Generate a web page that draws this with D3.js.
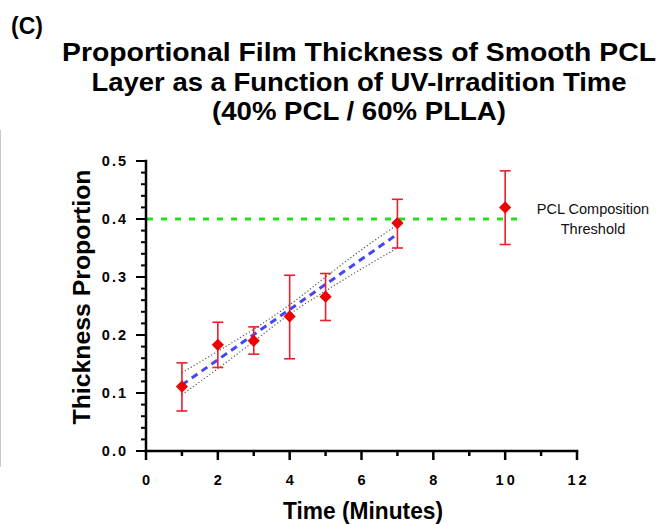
<!DOCTYPE html>
<html>
<head>
<meta charset="utf-8">
<script src="https://cdn.jsdelivr.net/npm/d3@7"></script>
<style>
  html, body { margin: 0; padding: 0; background: #fff; }
  svg { display: block; }
</style>
</head>
<body>
<div id="chart"></div>
<script>
// Irradiation time (minutes) and measured proportional thickness of the smooth PCL layer
const times = [1, 2, 3, 4, 5, 7, 10];
const meanThickness = [0.111, 0.183, 0.190, 0.232, 0.266, 0.393, 0.420];
const errLow = [0.069, 0.144, 0.167, 0.159, 0.225, 0.350, 0.356];
const errHigh = [0.152, 0.222, 0.214, 0.303, 0.306, 0.434, 0.483];

// Linear fit over the first six time points, with its confidence band
const fitTimes = [1, 7];
const fitValues = [0.114, 0.374];
const bandTimes = [1, 2, 3, 4, 5, 6, 7];
const bandUpper = [0.135, 0.172, 0.210, 0.252, 0.300, 0.347, 0.390];
const bandLower = [0.097, 0.142, 0.189, 0.236, 0.276, 0.314, 0.350];

// PCL composition threshold (40 %)
const thresholdValue = 0.4;
const thresholdTimes = [0, 10.4];

const xTicks = [0, 2, 4, 6, 8, 10, 12];
const yTicks = [0.0, 0.1, 0.2, 0.3, 0.4, 0.5];

const titleLines = [
  "Proportional Film Thickness of Smooth PCL",
  "Layer as a Function of UV-Irradition Time",
  "(40% PCL / 60% PLLA)"
];

const W = 665, H = 525;
const svg = d3.select("#chart").append("svg").attr("width", W).attr("height", H);
const FONT = "'Liberation Sans', Arial, Helvetica, sans-serif";

const x = d3.scaleLinear().domain([0, 12]).range([146, 577]);
const y = d3.scaleLinear().domain([0, 0.5]).range([451, 161]);

// faint page edge line
svg.append("line").attr("x1", 0.5).attr("x2", 0.5).attr("y1", 130).attr("y2", 467)
  .attr("stroke", "#c8c8c8").attr("stroke-width", 1);

// panel letter
svg.append("text").attr("x", 11).attr("y", 34).text("(C)")
  .attr("font-family", FONT).attr("font-weight", "bold").attr("font-size", 23).attr("fill", "#000");

// title
const titleSpecs = [
  { y: 61, w: 594 },
  { y: 91, w: 535 },
  { y: 120, w: 294 }
];
titleLines.forEach((t, i) => {
  svg.append("text").attr("x", 359).attr("y", titleSpecs[i].y)
    .attr("text-anchor", "middle").text(t)
    .attr("font-family", FONT).attr("font-weight", "bold").attr("font-size", 26.5)
    .attr("textLength", titleSpecs[i].w).attr("lengthAdjust", "spacingAndGlyphs")
    .attr("fill", "#000");
});

// confidence band (dotted)
const bandLine = d3.line().x(d => x(d[0])).y(d => y(d[1])).curve(d3.curveMonotoneX);
[bandUpper, bandLower].forEach(arr => {
  svg.append("path")
    .attr("d", bandLine(bandTimes.map((t, i) => [t, arr[i]])))
    .attr("fill", "none").attr("stroke", "#555").attr("stroke-width", 1.2)
    .attr("stroke-dasharray", "1.2,2.2");
});

// fitted line
svg.append("path")
  .attr("d", d3.line().x(d => x(d[0])).y(d => y(d[1]))(fitTimes.map((t, i) => [t, fitValues[i]])))
  .attr("fill", "none").attr("stroke", "#4646f5").attr("stroke-width", 3)
  .attr("stroke-dasharray", "7,5");

// threshold line
svg.append("line")
  .attr("x1", x(thresholdTimes[0])).attr("x2", x(thresholdTimes[1]))
  .attr("y1", y(thresholdValue)).attr("y2", y(thresholdValue))
  .attr("stroke", "#22e022").attr("stroke-width", 3).attr("stroke-dasharray", "6,8")
  .attr("stroke-dashoffset", -1);

svg.append("text").attr("x", 593).attr("y", 214).attr("text-anchor", "middle")
  .text("PCL Composition").attr("font-family", FONT).attr("font-size", 14.5).attr("fill", "#111");
svg.append("text").attr("x", 593).attr("y", 234).attr("text-anchor", "middle")
  .text("Threshold").attr("font-family", FONT).attr("font-size", 14.5).attr("fill", "#111");

// error bars
const cap = 5.5;
const eb = svg.append("g").attr("stroke", "#e8202a").attr("stroke-width", 1.6).attr("fill", "none");
times.forEach((t, i) => {
  const cx = x(t);
  eb.append("line").attr("x1", cx).attr("x2", cx).attr("y1", y(errLow[i])).attr("y2", y(errHigh[i]));
  eb.append("line").attr("x1", cx - cap).attr("x2", cx + cap).attr("y1", y(errLow[i])).attr("y2", y(errLow[i]));
  eb.append("line").attr("x1", cx - cap).attr("x2", cx + cap).attr("y1", y(errHigh[i])).attr("y2", y(errHigh[i]));
});

// diamond markers
const diamond = d3.symbol().type(d3.symbolDiamond2).size(95);
svg.append("g").selectAll("path").data(times).join("path")
  .attr("transform", (t, i) => `translate(${x(t)},${y(meanThickness[i])})`)
  .attr("d", diamond).attr("fill", "#f00000");

// axes
const axisW = 2.5;
// x axis
svg.append("line").attr("x1", x(0) - 1.25).attr("x2", x(12) + 1.25).attr("y1", y(0)).attr("y2", y(0))
  .attr("stroke", "#000").attr("stroke-width", axisW);
const xMinor = d3.range(0, 13, 1);
svg.append("g").selectAll("line").data(xMinor).join("line")
  .attr("x1", d => x(d)).attr("x2", d => x(d))
  .attr("y1", y(0)).attr("y2", d => y(0) + (d % 2 === 0 ? 9 : 5))
  .attr("stroke", "#000").attr("stroke-width", axisW);
svg.append("g").selectAll("text").data(xTicks).join("text")
  .attr("x", d => x(d) + (d >= 10 ? 1.5 : 0)).attr("y", 485).attr("text-anchor", "middle")
  .attr("font-family", FONT).attr("font-weight", "bold").attr("font-size", 14.5)
  .attr("letter-spacing", d => d >= 10 ? 3 : 0)
  .text(d => d);

// y axis
svg.append("line").attr("x1", x(0)).attr("x2", x(0)).attr("y1", y(0.5) - 1.25).attr("y2", y(0) + 1.25)
  .attr("stroke", "#000").attr("stroke-width", axisW);
const yMinor = d3.range(0, 26).map(k => k * 0.02);
svg.append("g").selectAll("line").data(yMinor).join("line")
  .attr("x1", x(0)).attr("x2", (d, k) => x(0) - (k % 5 === 0 ? 10 : 5))
  .attr("y1", d => y(d)).attr("y2", d => y(d))
  .attr("stroke", "#000").attr("stroke-width", 2);
svg.append("g").selectAll("text").data(yTicks).join("text")
  .attr("x", 128).attr("y", d => y(d) + 5).attr("text-anchor", "end")
  .attr("font-family", FONT).attr("font-weight", "bold").attr("font-size", 14.5)
  .attr("letter-spacing", 2)
  .text(d => d3.format(".1f")(d));

// axis titles
svg.append("text").attr("x", 363).attr("y", 519).attr("text-anchor", "middle")
  .text("Time (Minutes)").attr("font-family", FONT).attr("font-weight", "bold")
  .attr("font-size", 24).attr("textLength", 160).attr("lengthAdjust", "spacingAndGlyphs")
  .attr("fill", "#000");
svg.append("text").attr("transform", "translate(90,297) rotate(-90)").attr("text-anchor", "middle")
  .text("Thickness Proportion").attr("font-family", FONT).attr("font-weight", "bold")
  .attr("font-size", 24).attr("textLength", 255).attr("lengthAdjust", "spacingAndGlyphs")
  .attr("fill", "#000");
</script>
</body>
</html>
